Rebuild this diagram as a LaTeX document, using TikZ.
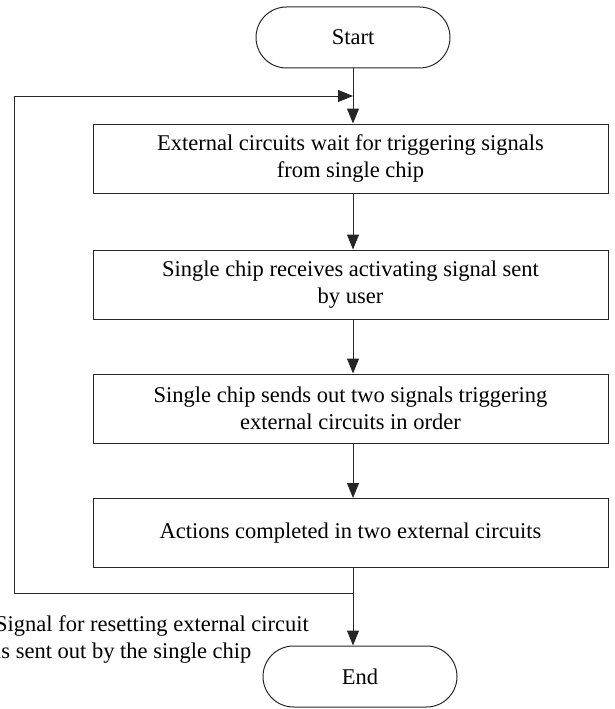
\documentclass[tikz,border=0pt]{standalone}
\usepackage{fontspec}
\setmainfont{Liberation Serif}
\usetikzlibrary{shapes.misc,arrows.meta}
\tikzset{
  line/.style={draw=black!85, line width=1pt},
  arr/.style={line, -{Triangle[length=15pt,width=12pt]}},
  term/.style={rounded rectangle, line, minimum width=194pt, minimum height=61pt, inner sep=0pt},
  proc/.style={rectangle, line, minimum width=515pt, minimum height=69pt, inner sep=0pt, align=center},
  txt/.style={font=\fontsize{22.5pt}{27pt}\selectfont}
}
\begin{document}
\begin{tikzpicture}[x=1pt,y=-1pt]
\useasboundingbox (0,0) rectangle (614,709);
\begin{scope}[txt]
\node[term, txt] (start) at (353,37.5) {Start};
\node[proc, txt] (b1) at (350.5,158.5) {External circuits wait for triggering signals\\from single chip};
\node[proc, txt] (b2) at (350.5,284.5) {Single chip receives activating signal sent\\by user};
\node[proc, txt] (b3) at (350.5,408.5) {Single chip sends out two signals triggering\\external circuits in order};
\node[proc, txt] (b4) at (350.5,533) {Actions completed in two external circuits};
\node[term, txt] (end) at (360,676.5) {End};
\node[txt, anchor=north west, inner sep=0pt, align=left] (lab) at (-5,615) {Signal for resetting external circuit\\is sent out by the single chip};
\end{scope}
\coordinate (mx) at (353,0);
\coordinate (join) at (353,96);
\coordinate (lt) at (14,96);
\coordinate (lb) at (14,593);
\coordinate (split) at (353,593);
\draw[arr] (start.south) -- (b1.north -| mx);
\draw[arr] (b1.south -| mx) -- (b2.north -| mx);
\draw[arr] (b2.south -| mx) -- (b3.north -| mx);
\draw[arr] (b3.south -| mx) -- (b4.north -| mx);
\draw[arr] (b4.south -| mx) -- (end.north -| mx);
\draw[arr] (split) -- (lb) -- (lt) -- (join);
\end{tikzpicture}
\end{document}
